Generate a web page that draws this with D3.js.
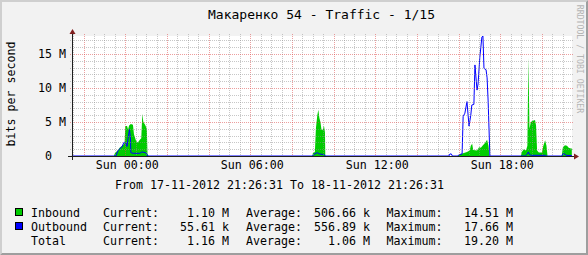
<!DOCTYPE html>
<html><head><meta charset="utf-8">
<script src="https://cdn.jsdelivr.net/npm/d3@7"></script>
<style>
body{margin:0;background:#f2f2f2}
svg{display:block}
text{font-family:"DejaVu Sans Mono",monospace;fill:#000}
</style>
</head><body>
<svg id="chart" width="588" height="255"></svg>
<script>
// ---------- data ----------
const title = "Макаренко 54 - Traffic - 1/15";
const yAxisLabel = "bits per second";
const watermark = "RRDTOOL / TOBI OETIKER";
const startTime = "2012-11-17 21:26:31";
const endTime = "2012-11-18 21:26:31";
const yMaxM = 17.66;                 // upper limit (M bits/s)
const yTickValues = [0, 5, 10, 15];  // labelled ticks (M)
const periodText = "From 17-11-2012 21:26:31 To 18-11-2012 21:26:31";

const inboundTimes = [
 "2012-11-17 21:26","2012-11-17 23:27","2012-11-17 23:30","2012-11-17 23:39","2012-11-17 23:45",
 "2012-11-17 23:53","2012-11-17 23:58","2012-11-18 00:00","2012-11-18 00:05","2012-11-18 00:08",
 "2012-11-18 00:11","2012-11-18 00:16","2012-11-18 00:22","2012-11-18 00:25","2012-11-18 00:31",
 "2012-11-18 00:36","2012-11-18 00:42","2012-11-18 00:46","2012-11-18 00:49","2012-11-18 00:52",
 "2012-11-18 00:57","2012-11-18 01:02","2012-11-18 01:04","2012-11-18 01:07",
 "2012-11-18 08:59","2012-11-18 09:00","2012-11-18 09:06","2012-11-18 09:09","2012-11-18 09:13",
 "2012-11-18 09:16","2012-11-18 09:19","2012-11-18 09:22","2012-11-18 09:25","2012-11-18 09:29",
 "2012-11-18 09:32","2012-11-18 09:35","2012-11-18 09:36",
 "2012-11-18 15:58","2012-11-18 16:01","2012-11-18 16:13","2012-11-18 16:24","2012-11-18 16:32",
 "2012-11-18 16:35","2012-11-18 16:39","2012-11-18 16:42","2012-11-18 16:53","2012-11-18 16:59",
 "2012-11-18 17:04","2012-11-18 17:10","2012-11-18 17:16","2012-11-18 17:22","2012-11-18 17:26",
 "2012-11-18 17:29",
 "2012-11-18 18:59","2012-11-18 19:02","2012-11-18 19:08","2012-11-18 19:14","2012-11-18 19:18",
 "2012-11-18 19:21","2012-11-18 19:24","2012-11-18 19:28","2012-11-18 19:34","2012-11-18 19:40",
 "2012-11-18 19:43","2012-11-18 19:46","2012-11-18 19:51","2012-11-18 20:00","2012-11-18 20:04",
 "2012-11-18 20:09","2012-11-18 20:13","2012-11-18 20:16",
 "2012-11-18 20:57","2012-11-18 21:00","2012-11-18 21:06","2012-11-18 21:12","2012-11-18 21:17",
 "2012-11-18 21:23","2012-11-18 21:26"
];
const inboundValues = [   // M bits/s
 0,0,0.4,0.9,1.3,
 1.6,1.9,4.4,4.4,3.9,
 4.5,4.7,4.6,3.2,2.2,
 2.0,2.4,2.6,6.2,5.0,
 4.6,4.0,0.3,0,
 0,0.4,0.6,4.1,6.0,
 6.8,5.6,5.0,3.9,3.8,
 4.5,3.5,0,
 0,0.2,0.4,0.6,0.8,
 1.5,1.8,0.9,0.8,1.3,
 1.2,1.6,1.9,2.4,1.5,
 0,
 0,0.6,1.0,0.8,1.5,
 14.51,4.0,5.0,5.2,5.3,
 4.5,0.8,0.5,0.5,1.5,
 2.3,1.5,0,
 0,1.2,1.6,1.5,1.2,
 1.1,1.1
];

const outboundTimes = [
 "2012-11-17 21:26","2012-11-17 23:33","2012-11-17 23:39","2012-11-17 23:45","2012-11-17 23:50",
 "2012-11-17 23:56","2012-11-18 00:01","2012-11-18 00:05","2012-11-18 00:08","2012-11-18 00:12",
 "2012-11-18 00:15","2012-11-18 00:16","2012-11-18 00:22","2012-11-18 00:42","2012-11-18 00:48",
 "2012-11-18 00:57","2012-11-18 01:02","2012-11-18 01:04",
 "2012-11-18 08:59","2012-11-18 09:02","2012-11-18 09:13","2012-11-18 09:19","2012-11-18 09:33",
 "2012-11-18 09:36",
 "2012-11-18 15:32","2012-11-18 15:35","2012-11-18 15:39","2012-11-18 15:42",
 "2012-11-18 15:58","2012-11-18 16:01","2012-11-18 16:10","2012-11-18 16:13","2012-11-18 16:18",
 "2012-11-18 16:24","2012-11-18 16:30","2012-11-18 16:35","2012-11-18 16:38","2012-11-18 16:44",
 "2012-11-18 16:47","2012-11-18 16:53","2012-11-18 16:56","2012-11-18 17:01","2012-11-18 17:07",
 "2012-11-18 17:10","2012-11-18 17:13","2012-11-18 17:19","2012-11-18 17:22","2012-11-18 17:25",
 "2012-11-18 17:30",
 "2012-11-18 19:12","2012-11-18 19:18","2012-11-18 19:21","2012-11-18 19:24","2012-11-18 19:30",
 "2012-11-18 20:10","2012-11-18 20:13",
 "2012-11-18 20:57","2012-11-18 21:00","2012-11-18 21:06","2012-11-18 21:09","2012-11-18 21:26"
];
const outboundValues = [  // M bits/s
 0,0,0.8,1.1,1.3,
 2.0,2.0,1.4,2.6,3.9,
 2.5,0.5,0.4,0.4,0.6,
 0.5,0.3,0,
 0,0.2,0.5,0.3,0.2,
 0,
 0,0.3,0.3,0,
 0,0.2,0.3,5.8,6.3,
 8.0,4.4,6.0,7.5,7.6,
 13.4,9.7,10.6,14.5,17.5,
 17.66,12.9,12.7,11.5,8.1,
 0,
 0,0.3,0.6,0.2,0.1,
 0.1,0,
 0,0.3,0.3,0.1,0.06
];

const legendNames   = ["Inbound", "Outbound", "Total"];
const legendColors  = ["#00cc00", "#0000ff", null];
const currentValues = ["1.10 M", "55.61 k", "1.16 M"];
const averageValues = ["506.66 k", "556.89 k", "1.06 M"];
const maximumValues = ["14.51 M", "17.66 M", "19.20 M"];

// ---------- drawing ----------
const W = 588, H = 255;
const FS = 11.63;   // 7px monospace advance
const svg = d3.select("#chart");
const parseFull = d3.timeParse("%Y-%m-%d %H:%M:%S");
const parse = d3.timeParse("%Y-%m-%d %H:%M");

const x = d3.scaleTime().domain([parseFull(startTime), parseFull(endTime)]).range([72, 572]);
const y = d3.scaleLinear().domain([0, yMaxM]).range([156, 36]);
const px = v => Math.round(v) + 0.5;

// background + 3d border
svg.append("rect").attr("width", W).attr("height", H).attr("fill", "#f2f2f2");
svg.append("path").attr("fill", "#cfcfcf")
  .attr("d", `M0,${H} L2,${H-2} L2,2 L${W-2},2 L${W},0 L0,0 Z`);
svg.append("path").attr("fill", "#9e9e9e")
  .attr("d", `M2,${H-2} L${W-2},${H-2} L${W-2},2 L${W},0 L${W},${H} L0,${H} Z`);

// canvas
const [x0, x1] = x.range();
const [yb, yt] = y.range();
svg.append("rect").attr("x", x0).attr("y", yt).attr("width", x1 - x0).attr("height", yb - yt).attr("fill", "#fff");

const inbound = inboundTimes.map((t, i) => ({t: parse(t), v: inboundValues[i]}));
const outbound = outboundTimes.map((t, i) => ({t: parse(t), v: outboundValues[i]}));

// data
svg.append("path").datum(inbound)
  .attr("fill", "#00cc00")
  .attr("d", d3.area().x(d => x(d.t)).y0(y(0)).y1(d => y(d.v)));
svg.append("path").datum(outbound)
  .attr("fill", "none").attr("stroke", "#0000ff").attr("stroke-width", 1)
  .attr("d", d3.line().x(d => x(d.t)).y(d => y(d.v)));

// grid
const minorCol = "rgba(143,143,143,0.5)", majorCol = "rgba(222,79,79,0.55)";
const g = svg.append("g").attr("shape-rendering", "crispEdges");
const majorT = x.ticks(d3.timeHour.every(2)).map(d => +d);
x.ticks(d3.timeMinute.every(30)).filter(d => !majorT.includes(+d)).forEach(t => {
  g.append("line").attr("x1", px(x(t))).attr("x2", px(x(t))).attr("y1", yt - 2).attr("y2", yb + 2)
   .attr("stroke", minorCol).attr("stroke-dasharray", "1,1");
});
majorT.forEach(t => {
  g.append("line").attr("x1", px(x(t))).attr("x2", px(x(t))).attr("y1", yt - 2).attr("y2", yb + 2)
   .attr("stroke", majorCol).attr("stroke-dasharray", "1,1");
});
y.ticks(18).filter(v => v > 0 && !yTickValues.includes(v)).forEach(v => {
  g.append("line").attr("x1", x0 - 2).attr("x2", x1 + 2).attr("y1", px(y(v))).attr("y2", px(y(v)))
   .attr("stroke", minorCol).attr("stroke-dasharray", "1,1");
});
yTickValues.filter(v => v > 0).forEach(v => {
  g.append("line").attr("x1", x0 - 2).attr("x2", x1 + 2).attr("y1", px(y(v))).attr("y2", px(y(v)))
   .attr("stroke", majorCol).attr("stroke-dasharray", "1,1");
});

// axes lines + arrows
const ax = svg.append("g").attr("shape-rendering", "crispEdges");
ax.append("line").attr("x1", x0 - 4).attr("x2", x1 + 4).attr("y1", yb + 0.5).attr("y2", yb + 0.5).attr("stroke", "#1f1f1f");
ax.append("line").attr("x1", x0 + 0.5).attr("x2", x0 + 0.5).attr("y1", yb + 4).attr("y2", yt - 4).attr("stroke", "#1f1f1f");
svg.append("path").attr("fill", "#801f1f")
  .attr("d", `M${x1+2},${yb-2.5} L${x1+2},${yb+3.5} L${x1+7},${yb+0.5} Z`);
svg.append("path").attr("fill", "#801f1f")
  .attr("d", `M${x0-2.5},${yt-2} L${x0+3.5},${yt-2} L${x0+0.5},${yt-7} Z`);

// y axis tick labels
const yAxis = d3.axisLeft(y).tickValues(yTickValues).tickSize(0).tickPadding(0)
  .tickFormat(v => v === 0 ? "0\u00a0\u00a0" : v + " M");
const yg = svg.append("g").attr("transform", "translate(66,0)").call(yAxis);
yg.select(".domain").remove();
yg.selectAll("text").attr("font-family", '"DejaVu Sans Mono",monospace').attr("font-size", FS).attr("fill", "#000");

// x axis tick labels
const xAxis = d3.axisBottom(x).ticks(d3.timeHour.every(6)).tickSize(0).tickPadding(5)
  .tickFormat(d3.timeFormat("%a %H:%M"));
const xg = svg.append("g").attr("transform", `translate(0,${yb})`).call(xAxis);
xg.select(".domain").remove();
xg.selectAll("text").attr("font-family", '"DejaVu Sans Mono",monospace').attr("font-size", FS).attr("fill", "#000").attr("dx", 1.5);

// title
svg.append("text").attr("x", 208).attr("y", 19).attr("text-anchor", "start")
  .attr("font-size", 13).text(title);

// y label
svg.append("text").attr("transform", "translate(15,94) rotate(-90)").attr("text-anchor", "middle")
  .attr("font-size", FS).text(yAxisLabel);

// watermark
svg.append("text").attr("transform", "translate(577,59) rotate(90)").attr("text-anchor", "middle")
  .attr("font-size", 8.2).style("fill", "#b4b4b4").text(watermark);

// period line
svg.append("text").attr("x", 115).attr("y", 189).attr("font-size", FS).text(periodText);

// legend
const rowY = [216.5, 230.5, 244.5];
legendNames.forEach((name, i) => {
  const by = rowY[i];
  if (legendColors[i]) {
    svg.append("rect").attr("x", 15.5).attr("y", by - 8).attr("width", 7).attr("height", 7)
      .attr("fill", legendColors[i]).attr("stroke", "#000").attr("stroke-width", 1);
  }
  const t = (xx, s, anchor) => svg.append("text").attr("x", xx).attr("y", by).attr("font-size", FS)
      .attr("text-anchor", anchor || "start").text(s);
  t(31, name);
  t(103, "Current:");
  t(229, currentValues[i], "end");
  t(246, "Average:");
  t(370, averageValues[i], "end");
  t(386.5, "Maximum:");
  t(513, maximumValues[i], "end");
});
</script>
</body></html>
